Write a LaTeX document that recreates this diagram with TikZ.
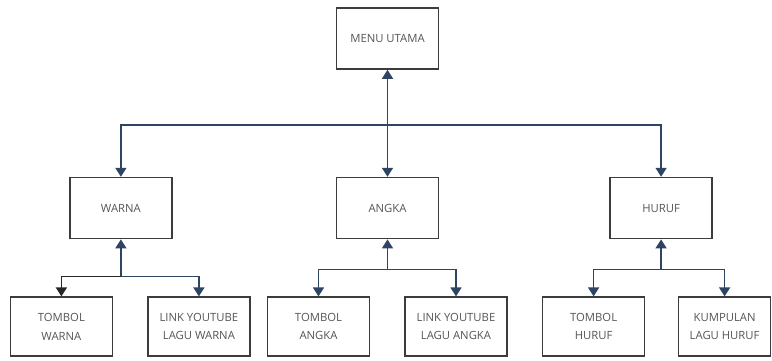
\documentclass[tikz,border=0pt]{standalone}
\usepackage{fontspec}
\setmainfont{Open Sans}
\usetikzlibrary{positioning, arrows.meta}
\definecolor{linkblue}{RGB}{46,68,98}
\definecolor{boxgray}{RGB}{60,60,60}
\definecolor{textgray}{RGB}{85,85,85}

\begin{document}
\begin{tikzpicture}
\tikzstyle{main}=[rectangle, minimum width = 102pt, minimum height = 61pt, line width=1.6pt, draw = boxgray, text = textgray, align=center, font=\fontsize{11.3}{18.5}\selectfont, inner sep=0pt]
\tikzstyle{leaf}=[main, minimum height = 59pt]
\tikzstyle{connect}=[draw = linkblue, line width=1.6pt, >={Triangle[width=11pt,length=9pt]}]
\useasboundingbox (0,0) rectangle (772pt,-361pt);
\node[main] (menu) at (387.5pt,-38.5pt) {MENU UTAMA};
\node[main] (angka) [below=107pt of menu] {ANGKA};
\node[main] (warna) [left=163pt of angka] {WARNA};
\node[main] (huruf) [right=170pt of angka] {HURUF};
\node[leaf] (tw) [below=57pt of warna, xshift=-59.5pt] {TOMBOL\\WARNA};
\node[leaf] (lw) [below=57pt of warna, xshift=78pt] {LINK YOUTUBE\\LAGU WARNA};
\node[leaf] (ta) [below=57pt of angka, xshift=-69pt] {TOMBOL\\ANGKA};
\node[leaf] (la) [below=57pt of angka, xshift=68.5pt] {LINK YOUTUBE\\LAGU ANGKA};
\node[leaf] (th) [below=57pt of huruf, xshift=-67.5pt] {TOMBOL\\HURUF};
\node[leaf, minimum width=92pt] (kh) [below=57pt of huruf, xshift=63.5pt] {KUMPULAN\\LAGU HURUF};
\coordinate (hubm) at ([yshift=-55pt]menu.south);
\coordinate (hubw) at ([yshift=-37pt]warna.south);
\coordinate (huba) at ([yshift=-30pt]angka.south);
\coordinate (hubh) at ([yshift=-30pt]huruf.south);
% menu utama
\path (menu.south) edge [connect, <->] (angka.north);
\draw[connect, ->] (hubm) -| (warna.north);
\draw[connect, ->] (hubm) -| (huruf.north);
% warna
\draw[connect, ->] (hubw) -- (warna.south);
\draw[connect, ->, draw=black!85] (hubw) -| (tw.north);
\draw[connect, ->] (hubw) -| (lw.north);
% angka
\draw[connect, ->] (huba) -- (angka.south);
\draw[connect, ->] (huba) -| (ta.north);
\draw[connect, ->] (huba) -| (la.north);
% huruf
\draw[connect, ->] (hubh) -- (huruf.south);
\draw[connect, ->] (hubh) -| (th.north);
\draw[connect, ->] (hubh) -| (kh.north);
\end{tikzpicture}
\end{document}
